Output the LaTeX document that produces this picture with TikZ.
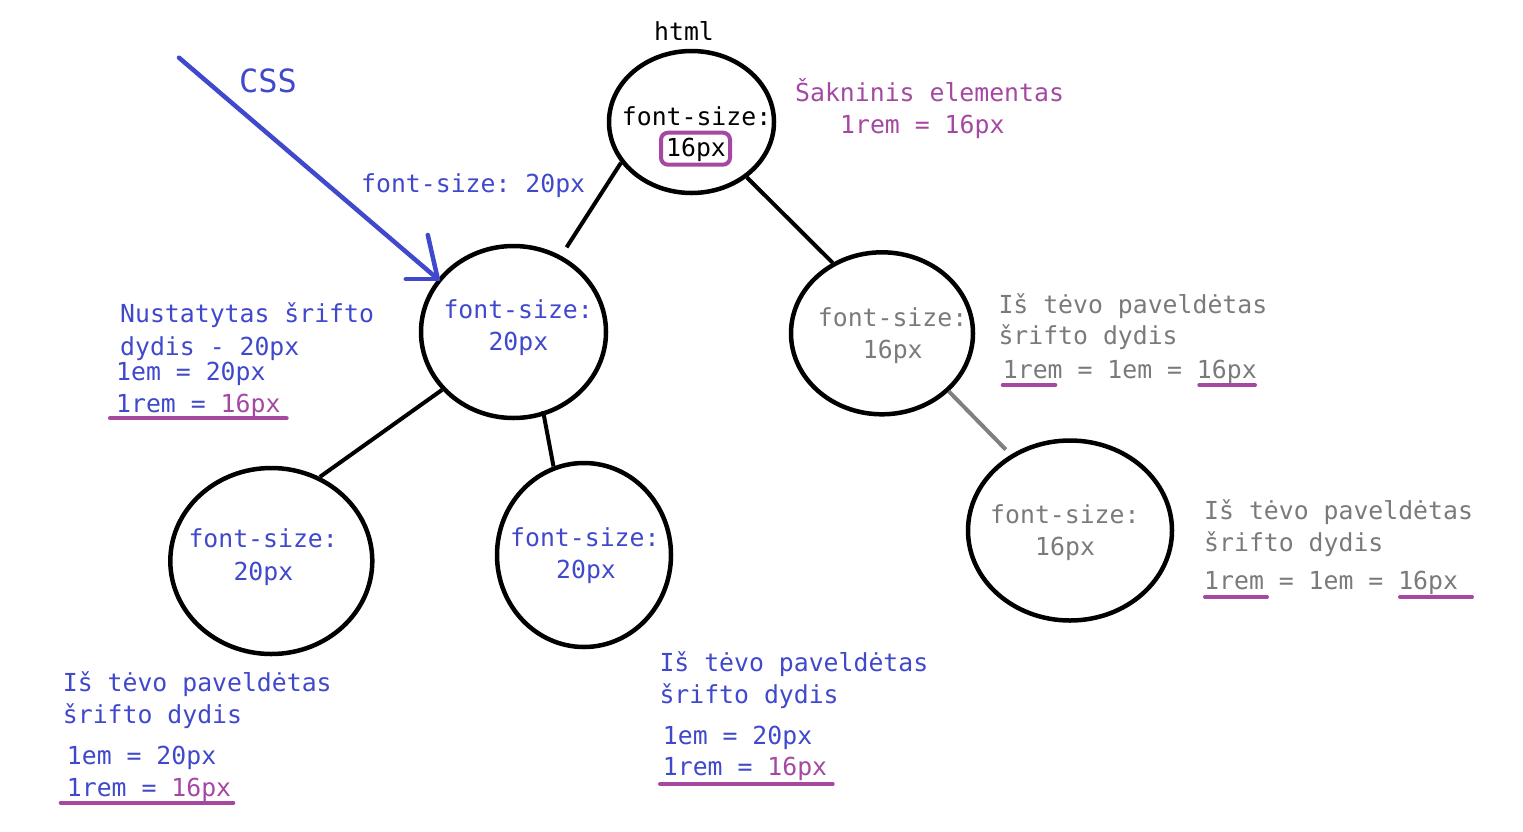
\documentclass[tikz,border=0pt]{standalone}
\usepackage{fontspec}
\setmainfont{DejaVu Sans Mono}
\usetikzlibrary{shapes.geometric}
\definecolor{cblue}{RGB}{64,72,204}
\definecolor{cpurple}{RGB}{164,72,162}
\definecolor{cgray}{RGB}{122,122,122}
\definecolor{cline}{RGB}{128,128,128}
\frenchspacing
\begin{document}
\begin{tikzpicture}[x=1pt,y=-1pt,
  bub/.style={draw=black,line width=4.5pt,ellipse,inner sep=0pt},
  txt/.style={anchor=base west,inner sep=0pt,font=\fontsize{24.8}{30}\selectfont},
  edge/.style={line width=4pt},
  ul/.style={cpurple,line width=4pt,line cap=round},
  cssline/.style={cblue,line width=4.5pt,line cap=round}]
\useasboundingbox (0,0) rectangle (1523,831);

% ellipses
\node[bub,minimum width=165pt,minimum height=142pt] (root) at (691.5,122) {};
\node[bub,minimum width=185pt,minimum height=172pt] (A) at (513.5,332) {};
\node[bub,minimum width=182pt,minimum height=162pt] (B) at (882,333.3) {};
\node[bub,minimum width=204pt,minimum height=180pt] (C) at (1070,530.5) {};
\node[bub,minimum width=202pt,minimum height=186pt] (D) at (271.3,561) {};
\node[bub,minimum width=174pt,minimum height=184pt] (E) at (584,555) {};

% edges
\draw[edge,shorten >=10pt] (root.210) -- (A.58);
\draw[edge] (root.-45) -- (B.125);
\draw[edge] (A.219) -- (D.60);
\draw[edge,shorten <=-4.5pt] (A.-70) -- (E.109);
\draw[edge,cline,shorten >=7pt] (B.-41) -- (C.128);

% CSS arrow
\coordinate (cssstart) at (179,57.7);
\draw[cssline] (cssstart) -- (A.145);
\draw[cssline] (A.145) -- ++(-10,-44);
\draw[cssline] (A.145) -- ++(-32,0);
\node[txt,cblue,font=\fontsize{32}{36}\selectfont] (css) at (239,92.7) {CSS};
\node[txt,cblue] (cssfs) at (361,192.7) {font-size: 20px};

% root
\node[txt] (html) at (654,40.7) {html};
\node[draw=cpurple,line width=4pt,rounded corners=7pt,minimum width=69pt,minimum height=32pt,inner sep=0pt] (box) at (695.5,148.7) {};
\node[txt] (rootl1) at (621.7,125) {font-size:};
\node[txt] (rootl2) at (666,156.7) {16px};
\node[txt,cpurple] (rootn1) at (795,101) {Šakninis elementas};
\node[txt,cpurple] (rootn2) at (840,133.3) {1rem = 16px};

% A
\node[txt,cblue] (Al1) at (443.3,318.3) {font-size:};
\node[txt,cblue] (Al2) at (488.3,350.7) {20px};
\node[txt,cblue] (An1) at (120,322.7) {Nustatytas šrifto};
\node[txt,cblue] (An2) at (120,355) {dydis - 20px};
\node[txt,cblue] (An3) at (116,380.7) {1em = 20px};
\node[txt,cblue] (An4) at (116,412.7) {1rem = \textcolor{cpurple}{16px}};
\draw[ul] (110,418.3) -- (286.7,418.3);

% B
\node[txt,cgray] (Bl1) at (817.7,326) {font-size:};
\node[txt,cgray] (Bl2) at (862.7,358.3) {16px};
\node[txt,cgray] (Bn1) at (998.3,313.3) {Iš tėvo paveldėtas};
\node[txt,cgray] (Bn2) at (998.3,344.3) {šrifto dydis};
\node[txt,cgray] (Bn3) at (1002.7,378.3) {1rem = 1em = 16px};
\draw[ul] (1002.7,385) -- (1055.3,385);
\draw[ul] (1199.3,385) -- (1255,385);

% C
\node[txt,cgray] (Cl1) at (990,523) {font-size:};
\node[txt,cgray] (Cl2) at (1035,555) {16px};
\node[txt,cgray] (Cn1) at (1204,519.3) {Iš tėvo paveldėtas};
\node[txt,cgray] (Cn2) at (1204,551.3) {šrifto dydis};
\node[txt,cgray] (Cn3) at (1204,589.5) {1rem = 1em = 16px};
\draw[ul] (1205,597) -- (1267,597);
\draw[ul] (1400,597) -- (1472,597);

% D
\node[txt,cblue] (Dl1) at (188.3,547.7) {font-size:};
\node[txt,cblue] (Dl2) at (233.3,580) {20px};
\node[txt,cblue] (Dn1) at (62.7,691.7) {Iš tėvo paveldėtas};
\node[txt,cblue] (Dn2) at (62.7,723.3) {šrifto dydis};
\node[txt,cblue] (Dn3) at (66.7,764) {1em = 20px};
\node[txt,cblue] (Dn4) at (66.7,796) {1rem = \textcolor{cpurple}{16px}};
\draw[ul] (60.7,802.7) -- (233.3,802.7);

% E
\node[txt,cblue] (El1) at (510,546) {font-size:};
\node[txt,cblue] (El2) at (556,578.3) {20px};
\node[txt,cblue] (En1) at (659.3,671.7) {Iš tėvo paveldėtas};
\node[txt,cblue] (En2) at (659.3,703.3) {šrifto dydis};
\node[txt,cblue] (En3) at (662.7,744) {1em = 20px};
\node[txt,cblue] (En4) at (662.7,775) {1rem = \textcolor{cpurple}{16px}};
\draw[ul] (660,784) -- (832.7,784);
\end{tikzpicture}
\end{document}
